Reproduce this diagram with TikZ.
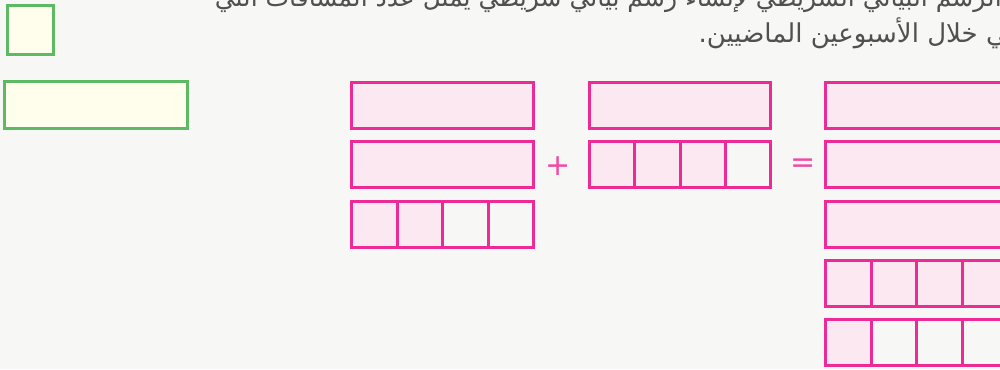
\documentclass[tikz,border=0pt]{standalone}
\usepackage{fontspec}
\newfontfamily\arabicfont[Script=Arabic]{DejaVu Sans}
\newfontfamily\symfont{DejaVu Sans}
\TeXXeTstate=1
\definecolor{bg}{HTML}{F7F7F5}
\definecolor{pinkline}{HTML}{EE2A96}
\definecolor{pinkfill}{HTML}{FCE8F0}
\definecolor{greenline}{HTML}{5DBA62}
\definecolor{greenfill}{HTML}{FFFDEB}
\definecolor{txt}{HTML}{505050}
\tikzset{
  pbox/.style={draw=pinkline, line width=3pt, fill=pinkfill, inner sep=0pt, anchor=north west, minimum height=46pt},
  pcell/.style={pbox, minimum width=45.5pt},
  ecell/.style={pcell, fill=bg},
  gbox/.style={draw=greenline, line width=3pt, fill=greenfill, inner sep=0pt, anchor=north west},
  opsym/.style={text=pinkline!85!white, font=\symfont\fontsize{30}{30}\selectfont, inner sep=0pt},
  artext/.style={text=txt, font=\arabicfont\fontsize{26}{26}\selectfont, inner sep=0pt, anchor=base east}
}
\begin{document}
\begin{tikzpicture}[x=1pt,y=-1pt]
\useasboundingbox (0,0) rectangle (1000,369);
\fill[bg] (0,0) rectangle (1000,369);
% text
\node[artext, font=\arabicfont\fontsize{25}{25}\selectfont] (t1) at (1002,7) {\beginR الرسم البياني الشريطي لإنشاء رسم بياني شريطي يمثل عدد المسافات التي\endR};
\node[artext] (t2) at (1032,42) {\beginR علي خلال الأسبوعين الماضيين.\endR};
% green boxes
\node[gbox, minimum width=46pt, minimum height=49pt] (g1) at (6,4) {};
\node[gbox, minimum width=183pt, minimum height=47pt] (g2) at (3,80) {};
% left column
\node[pbox, minimum width=182pt] (a1) at (350,81) {};
\node[pbox, minimum width=182pt] (a2) at (350,140) {};
\node[pcell] (a31) at (350,199.5) {};
\node[pcell] (a32) at (395.5,199.5) {};
\node[ecell] (a33) at (441,199.5) {};
\node[ecell] (a34) at (486.5,199.5) {};
% plus
\node[opsym] (plus) at (558,166) {+};
% middle column
\node[pbox, minimum width=181pt] (b1) at (588,81) {};
\node[pcell, minimum width=45.25pt] (b21) at (588,140) {};
\node[pcell, minimum width=45.25pt] (b22) at (633.25,140) {};
\node[pcell, minimum width=45.25pt] (b23) at (678.5,140) {};
\node[ecell, minimum width=45.25pt] (b24) at (723.75,140) {};
% equals
\node[opsym] (eq) at (803,166) {=};
% right column
\node[pbox, minimum width=182pt] (c1) at (824,81) {};
\node[pbox, minimum width=182pt] (c2) at (824,140) {};
\node[pbox, minimum width=182pt] (c3) at (824,199.5) {};
\node[pcell] (c41) at (824,258.5) {};
\node[pcell] (c42) at (869.5,258.5) {};
\node[pcell] (c43) at (915,258.5) {};
\node[pcell] (c44) at (960.5,258.5) {};
\node[pcell] (c51) at (824,318) {};
\node[ecell] (c52) at (869.5,318) {};
\node[ecell] (c53) at (915,318) {};
\node[ecell] (c54) at (960.5,318) {};
\end{tikzpicture}
\end{document}
